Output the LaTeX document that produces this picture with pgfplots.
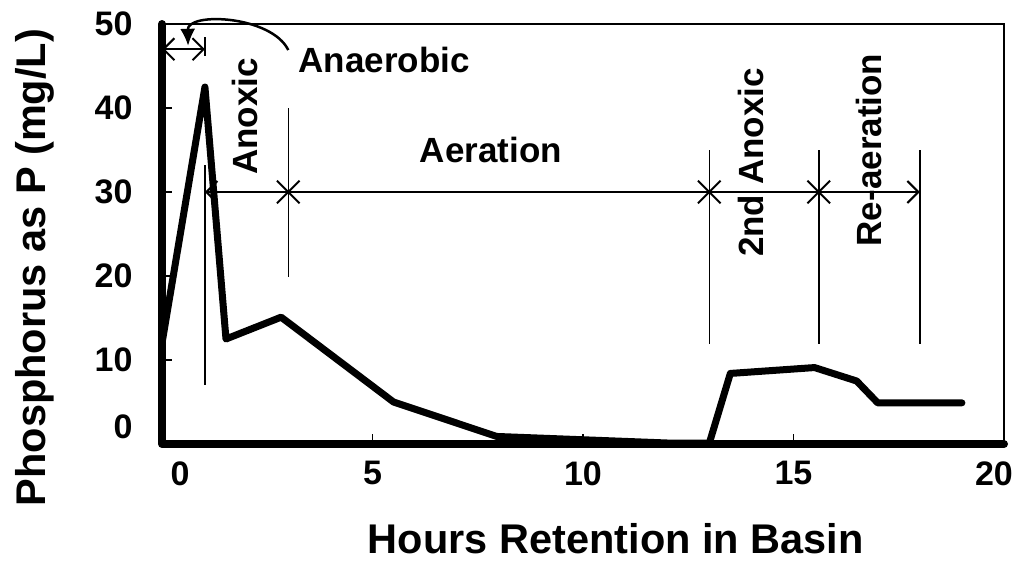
\documentclass[border=0pt]{standalone}
\usepackage{fontspec}
\setmainfont{Liberation Sans}
\usepackage{pgfplots}
\pgfplotsset{compat=1.18}
\usetikzlibrary{arrows.meta}
\begin{document}
\begin{tikzpicture}
\path[use as bounding box] (-162pt,-119pt) rectangle (856pt,444pt);
\begin{axis}[
 at={(0,0)}, anchor=south west,
 scale only axis, width=842pt, height=420pt,
 xmin=0,xmax=20,ymin=0,ymax=50,
 xtick={0,5,10,15,20}, ytick={0,10,20,30,40,50},
 xticklabels={\kern36pt0,5,10,15,20\kern20pt},
 yticklabels={\raisebox{34pt}{0},10,20,30,40,50},
 tick align=inside, major tick length=10pt, tick pos=left,
 tick style={line width=1.5pt,black},
 axis line style={draw=none},
 clip=false,
 /pgf/number format/assume math mode=true,
 ticklabel style={font=\fontsize{34}{34}\selectfont\bfseries},
 xticklabel style={yshift=-14pt},
 yticklabel style={xshift=-26pt},
 xlabel={Hours Retention in Basin},
 ylabel={Phosphorus as P (mg/L)},
 label style={font=\fontsize{41.5}{41.5}\selectfont\bfseries, inner sep=0pt},
 xlabel style={at={(axis description cs:0.539,-0.226)},anchor=center},
 ylabel style={at={(axis description cs:-0.1508,0.42)},anchor=center},
]
% frame
\draw[line width=2pt] (rel axis cs:0,1) -- (rel axis cs:1,1) -- (rel axis cs:1,0);
\draw[line width=8pt, line cap=round, line join=round] (rel axis cs:0,1) -- (rel axis cs:0,0) -- (rel axis cs:1,0);
% data
\addplot[line width=7pt, line join=round, line cap=round, black] coordinates {
(0,12) (1.02,42.5) (1.52,12.5) (2.83,15.1) (5.5,5.0) (7.95,0.9) (12.1,0.1) (13.0,0.1) (13.5,8.4) (15.5,9.1) (16.5,7.5) (17.0,4.9) (19.0,4.9)};
% annotations
\draw[line width=2pt, {Straight Barb[length=11pt,width=22pt]}-{Straight Barb[length=11pt,width=22pt]}] (axis cs:1.02,30) -- (axis cs:18.0,30);
\addplot[only marks, mark=x, mark size=16pt, mark options={line width=2pt}, black] coordinates {(3.0,30) (13,30) (15.6,30)};
\draw[line width=1.5pt] (axis cs:1.02,33.2) -- (axis cs:1.02,7.0);
\draw[line width=1.5pt] (axis cs:3.0,40) -- (axis cs:3.0,19.9);
\draw[line width=1.5pt] (axis cs:13,35) -- (axis cs:13,11.9);
\draw[line width=1.5pt] (axis cs:15.6,35) -- (axis cs:15.6,11.9);
\draw[line width=1.5pt] (axis cs:18.0,35) -- (axis cs:18.0,11.9);
\draw[line width=2pt, {Straight Barb[length=11pt,width=22pt]}-{Straight Barb[length=11pt,width=22pt]}] (axis cs:0,47) -- (axis cs:1.02,47);
\draw[line width=1.5pt] (axis cs:1.02,48.4) -- (axis cs:1.02,46.2);
\draw[line width=2.5pt, -{Latex[length=17pt,width=15pt]}] (axis cs:3.0,46.9) .. controls (axis cs:2.6,51) and (axis cs:0.6,51.5) .. (axis cs:0.62,47.4);
\begin{scope}[every node/.style={font=\fontsize{35}{35}\selectfont\bfseries}]
\node[anchor=west] at (axis cs:3.16,45.7) {Anaerobic};
\node[rotate=90] at (axis cs:1.97,39) {Anoxic};
\node at (axis cs:7.81,35) {Aeration};
\node[rotate=90] at (axis cs:14.0,33.5) {2nd Anoxic};
\node[rotate=90] at (axis cs:16.8,35) {Re-aeration};
\end{scope}
\end{axis}
\end{tikzpicture}
\end{document}
